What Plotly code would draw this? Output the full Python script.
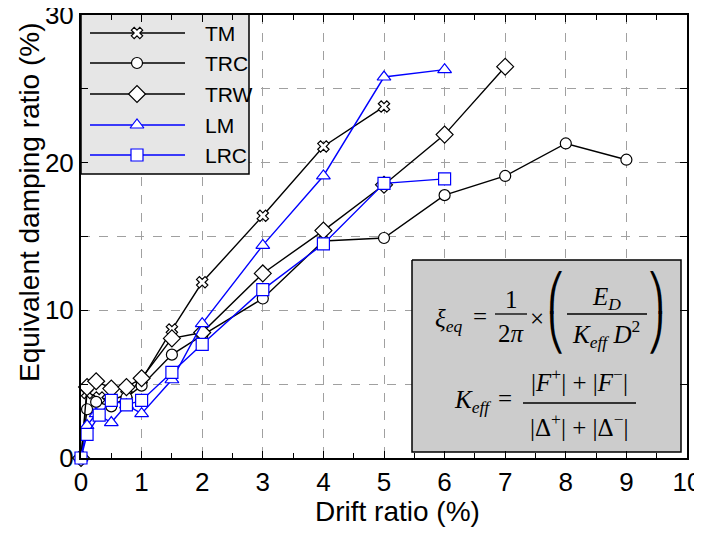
import plotly.graph_objects as go

# ---------------- data ----------------
names = ["TM", "TRC", "TRW", "LM", "LRC"]

tm_x = [0, 0.1, 0.3, 0.5, 0.75, 1, 1.5, 2, 3, 4, 5]
tm_y = [0, 4.4, 4.1, 3.9, 4.3, 5.3, 8.7, 11.9, 16.4, 21.1, 23.8]

trc_x = [0, 0.1, 0.25, 0.5, 0.75, 1, 1.5, 2, 3, 4, 5, 6, 7, 8, 9]
trc_y = [0, 3.3, 3.8, 3.5, 4.1, 4.9, 7.0, 8.3, 10.8, 14.7, 14.9, 17.8, 19.1, 21.3, 20.2]

trw_x = [0, 0.1, 0.25, 0.5, 0.75, 1, 1.5, 2, 3, 4, 5, 6, 7]
trw_y = [0, 4.8, 5.2, 4.7, 4.8, 5.4, 8.1, 8.5, 12.5, 15.4, 18.5, 21.9, 26.5]

lm_x = [0, 0.1, 0.25, 0.5, 0.75, 1, 1.5, 2, 3, 4, 5, 6]
lm_y = [0, 2.2, 3.0, 2.4, 3.6, 3.0, 5.3, 9.1, 14.4, 19.1, 25.8, 26.3]

lrc_x = [0, 0.1, 0.3, 0.5, 0.75, 1, 1.5, 2, 3, 4, 5, 6]
lrc_y = [0, 1.6, 2.9, 3.9, 3.6, 3.9, 5.8, 7.7, 11.4, 14.5, 18.6, 18.9]

x_ticks = [0, 1, 2, 3, 4, 5, 6, 7, 8, 9, 10]
y_ticks = [0, 10, 20, 30]

xlabel = "Drift ratio (%)"
ylabel = "Equivalent damping ratio (%)"

# ---------------- styles ----------------
series = [
    (tm_x, tm_y, "black", "x", 10),
    (trc_x, trc_y, "black", "circle", 11),
    (trw_x, trw_y, "black", "diamond", 13),
    (lm_x, lm_y, "#0000ff", "triangle-up", 12),
    (lrc_x, lrc_y, "#0000ff", "square", 12),
]

SANS = "Liberation Sans, Arial, sans-serif"
SERIF = "Liberation Serif, Times New Roman, serif"

# plot area in window pixels (the page body adds an 8px offset)
PX0, PX1, PY0, PY1 = 81, 687, 15, 458

fig = go.Figure()

for name, (xs, ys, col, sym, sz) in zip(names, series):
    fig.add_trace(go.Scatter(
        x=xs, y=ys, name=name, mode="lines+markers",
        line=dict(color=col, width=1.4),
        marker=dict(symbol=sym, size=sz, color="white",
                    line=dict(color=col, width=1.2)),
        showlegend=False, cliponaxis=False,
    ))


def box(x0, x1, y0, y1, fill):
    fig.add_trace(go.Scatter(
        x=[x0, x1, x1, x0, x0], y=[y0, y0, y1, y1, y0], mode="lines",
        xaxis="x2", yaxis="y2", fill="toself", fillcolor=fill,
        line=dict(color="black", width=1.5), showlegend=False,
        hoverinfo="skip", cliponaxis=False))


# ---- boxes (pixel-like overlay axis x2/y2) ----
box(81, 249, 14, 174, "#e6e6e6")
box(412, 681, 260, 452, "#cccccc")

# ---- custom legend ----
row_y = [33, 63, 94, 125, 155]
for name, (xs, ys, col, sym, sz), ry in zip(names, series, row_y):
    fig.add_trace(go.Scatter(
        x=[90, 185], y=[ry, ry], mode="lines", xaxis="x2", yaxis="y2",
        line=dict(color=col, width=1.4), showlegend=False, hoverinfo="skip"))
    fig.add_trace(go.Scatter(
        x=[137], y=[ry], mode="markers", xaxis="x2", yaxis="y2",
        marker=dict(symbol=sym, size=sz, color="white",
                    line=dict(color=col, width=1.2)),
        showlegend=False, hoverinfo="skip"))
    fig.add_annotation(x=203, y=ry, xref="x2", yref="y2", text=name,
                       showarrow=False, xanchor="left", yanchor="middle",
                       font=dict(family=SANS, size=21, color="black"))


def txt(x, y, s, size=25, anchor="center", family=SERIF):
    fig.add_annotation(x=x, y=y, xref="x2", yref="y2", text=s, showarrow=False,
                       xanchor=anchor, yanchor="middle",
                       font=dict(family=family, size=size, color="black"))


def bar(x0, x1, y):
    fig.add_shape(type="line", xref="x2", yref="y2", x0=x0, x1=x1, y0=y, y1=y,
                  line=dict(color="black", width=1.3))


# line 1
txt(448, 320, "<i>ξ</i><sub><i>eq</i></sub>")
txt(480, 316, "=")
txt(511, 299, "1")
bar(495, 527, 314)
txt(511, 333, "2<i>π</i>")
txt(537, 318, "×")
txt(556, 292, "⎛", size=36, family="DejaVu Sans")
txt(556, 332, "⎝", size=36, family="DejaVu Sans")
txt(656, 292, "⎞", size=36, family="DejaVu Sans")
txt(656, 332, "⎠", size=36, family="DejaVu Sans")
txt(606, 298, "<i>E</i><sub><i>D</i></sub>")
bar(567, 647, 314)
txt(606, 334, "<i>K</i><sub><i>eff</i></sub><i> D</i><sup>2</sup>")

# line 2
txt(472, 401, "<i>K</i><sub><i>eff</i></sub>")
txt(505, 398, "=")
txt(579, 380, "|<i>F</i><sup>+</sup>| + |<i>F</i><sup>−</sup>|")
bar(523, 636, 403)
txt(579, 425, "|Δ<sup>+</sup>| + |Δ<sup>−</sup>|")


def paper_x(sx):
    return (sx - PX0) / (PX1 - PX0)


def paper_y(sy):
    return (PY1 - sy) / (PY1 - PY0)


# axis titles as paper annotations (positioned like the reference)
fig.add_annotation(x=paper_x(397), y=paper_y(511), xref="paper", yref="paper",
                   text=xlabel, showarrow=False, xanchor="center",
                   yanchor="middle",
                   font=dict(family=SANS, size=28, color="black"))
fig.add_annotation(x=paper_x(29), y=paper_y(202), xref="paper", yref="paper",
                   text=ylabel, showarrow=False, textangle=-90,
                   xanchor="center", yanchor="middle",
                   font=dict(family=SANS, size=28, color="black"))

axis_common = dict(
    showline=True, linecolor="black", linewidth=2, mirror="ticks",
    ticks="inside", ticklen=7, tickwidth=1, tickcolor="black",
    showgrid=True, gridcolor="#a0a0a0", griddash="dash", gridwidth=1,
    zeroline=False, automargin=False, ticklabeloverflow="allow",
    tickfont=dict(family=SANS, size=26, color="black"),
)

W, H = 694, 527  # window 702x535 minus the 8px body offset
fig.update_layout(
    width=W, height=H,
    margin=dict(l=PX0 - 8, r=W - (PX1 - 8), t=PY0 - 8, b=H - (PY1 - 8)),
    paper_bgcolor="white", plot_bgcolor="white",
    font=dict(family=SANS, color="black"),
    xaxis=dict(range=[0, 10], tickvals=x_ticks,
               minor=dict(dtick=0.5, ticks="inside", ticklen=5,
                          tickcolor="black", showgrid=False),
               **axis_common),
    yaxis=dict(range=[0, 30], tickvals=y_ticks,
               minor=dict(dtick=5, ticks="inside", ticklen=7,
                          tickcolor="black", showgrid=True,
                          gridcolor="#a0a0a0", griddash="dash"),
               **axis_common),
    xaxis2=dict(overlaying="x", range=[PX0, PX1], visible=False,
                fixedrange=True),
    yaxis2=dict(overlaying="y", range=[PY1, PY0], visible=False,
                fixedrange=True),
)

fig.write_html("out.html")
